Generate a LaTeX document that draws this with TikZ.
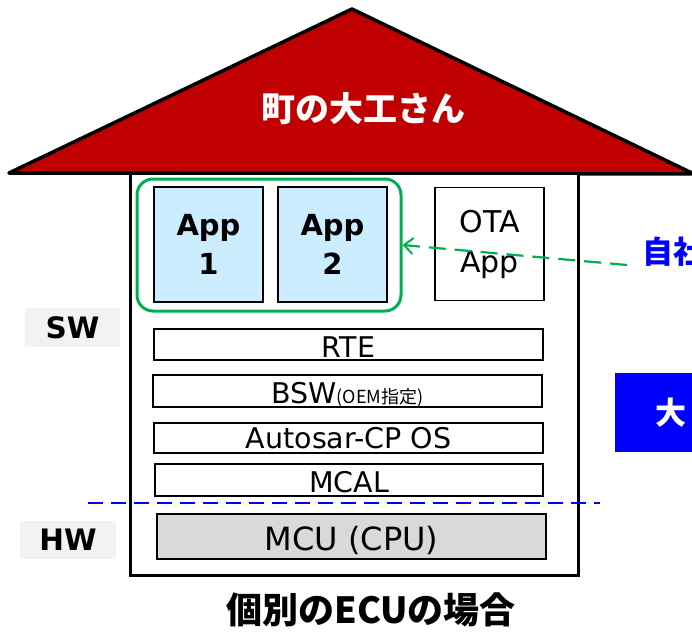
\documentclass[tikz,border=0pt]{standalone}
\usepackage{fontspec}
\setmainfont{DejaVu Sans}
\newfontfamily\jp{Noto Sans CJK JP}
\usetikzlibrary{arrows.meta}
\definecolor{roofred}{RGB}{192,0,0}
\definecolor{appblue}{RGB}{204,236,255}
\definecolor{grn}{RGB}{0,176,80}
\definecolor{mcugray}{RGB}{217,217,217}
\definecolor{lblgray}{RGB}{242,242,242}
\definecolor{pureblue}{RGB}{0,0,255}
\begin{document}
\begin{tikzpicture}[x=1pt,y=-1pt,
  layerbox/.style={draw=black, line width=1.8pt, fill=white, inner sep=0pt, minimum width=389, text height=24pt, text depth=0pt, font=\fontsize{28.5}{30}\selectfont},
  appbox/.style={draw=black, line width=1.8pt, fill=appblue, inner sep=0pt, minimum width=109, minimum height=115, align=center, font=\fontsize{29}{39}\selectfont\bfseries},
  lblbox/.style={fill=lblgray, inner sep=0pt, font=\fontsize{29.5}{31}\selectfont\bfseries},
  jptext/.style={inner sep=0pt, font=\jp\fontsize{36}{38}\selectfont\bfseries}
]
\useasboundingbox (0,0) rectangle (692,631);
\clip (0,0) rectangle (692,631);
% roof
\coordinate (rl) at (9,173);
\coordinate (ra) at (352,9);
\coordinate (rr) at (694,174);
\draw[fill=roofred, line width=3.5pt, line join=round] (rl) -- (ra) -- (rr) -- cycle;
\node[jptext, text=white, font=\jp\fontsize{34}{36}\selectfont\bfseries] (roof) at (363,109) {町の大工さん};
% body
\node[draw=black, line width=3pt, fill=white, minimum width=448, minimum height=402, inner sep=0pt] (body) at (354,374) {};
% labels
\node[lblbox, minimum width=95, minimum height=39] (sw) at (72.5,327.5) {SW};
\node[lblbox, minimum width=96, minimum height=38] (hw) at (68,540) {HW};
% apps
\node[draw=grn, line width=3pt, rounded corners=16pt, minimum width=264, minimum height=132, inner sep=0pt] (grp) at (269,245) {};
\node[appbox] (app1) at (208.5,244.5) {App\\1};
\node[appbox] (app2) at (332.5,244.5) {App\\2};
\node[draw=black, line width=1.8pt, fill=white, inner sep=0pt, minimum width=109, minimum height=113, align=center, font=\fontsize{30}{40}\selectfont] (ota) at (489.5,244) {OTA\\App};
% layers
\node[layerbox, minimum height=31, text height=26pt] (rte) at (348.5,344.5) {RTE};
\node[layerbox, minimum height=32] (bsw) at (347.5,391) {BSW{\jp\fontsize{18}{19}\selectfont (OEM指定)}};
\node[layerbox, minimum height=30, text height=21pt] (os) at (348.5,438) {Autosar-CP OS};
\node[layerbox, minimum width=388, minimum height=32] (mcal) at (349,480) {MCAL};
\node[layerbox, fill=mcugray, minimum height=45, text height=27pt, font=\fontsize{32}{34}\selectfont] (mcu) at (351.5,536.5) {MCU (CPU)};
% HW/SW divider
\coordinate (hwl) at (88,503);
\coordinate (hwr) at (600,503);
\draw[pureblue, line width=1.5pt, dash pattern=on 15pt off 8pt] (hwl) -- (hwr);
% right side
\node[jptext, text=pureblue, anchor=west, font=\jp\fontsize{31}{34}\selectfont\bfseries] (jisha) at (642,252) {自社};
\node[fill=pureblue, minimum width=100, minimum height=79, inner sep=0pt, anchor=west] (bigbox) at (615,412.5) {};
\node[jptext, text=white, anchor=west, font=\jp\fontsize{31}{34}\selectfont\bfseries] (dai) at (655,413) {大};
% dashed arrow
\coordinate (src) at (627,265);
\draw[grn, line width=2.2pt, dash pattern=on 17pt off 9pt, -{Straight Barb[length=9pt, width=16pt, line width=2pt]}] (src) -- (grp.east);
% title
\node[jptext] (title) at (371,610) {個別のECUの場合};
\end{tikzpicture}
\end{document}
